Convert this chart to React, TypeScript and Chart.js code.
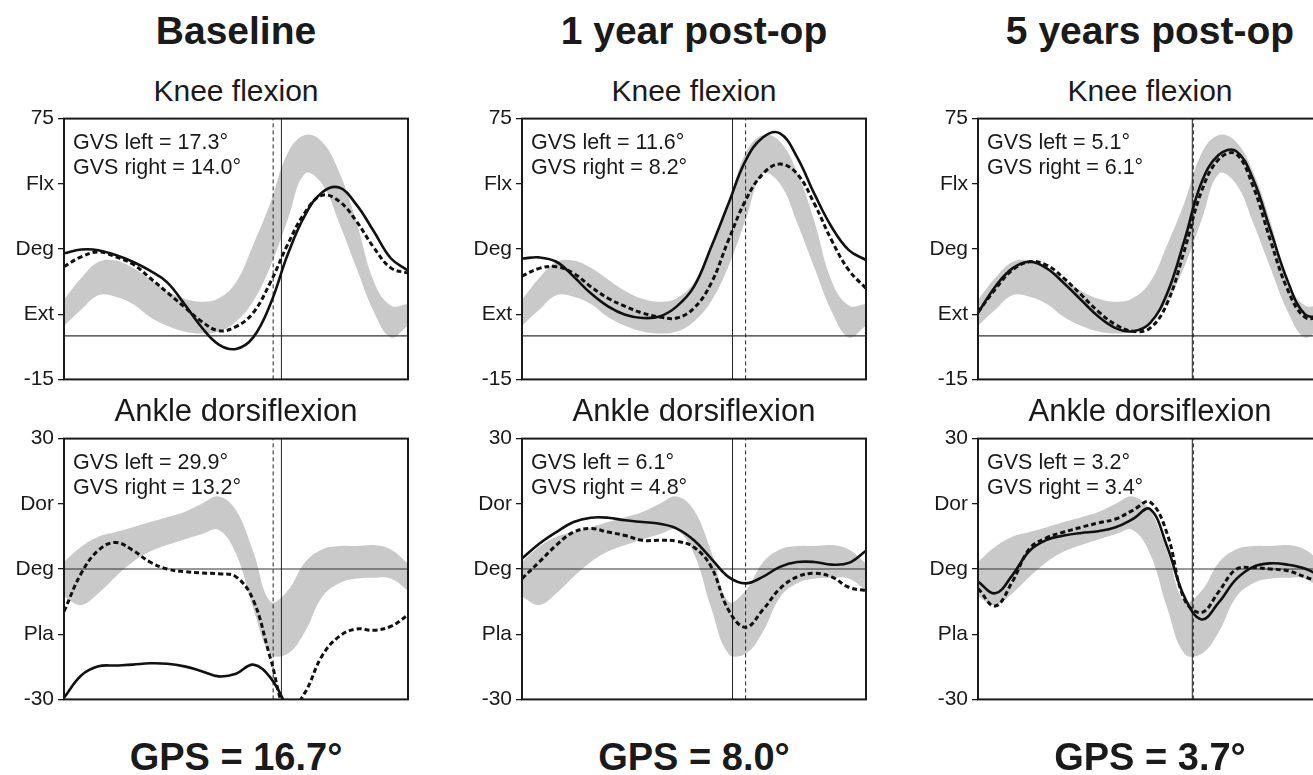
import React, { useEffect, useRef } from 'react';
import { Chart, registerables } from 'chart.js';

Chart.register(...registerables);

// ---------- DATA ----------
// % of gait cycle
const PCT = [0, 5, 10, 15, 20, 25, 30, 35, 40, 45, 50, 55, 60, 65, 70, 75, 80, 85, 90, 95, 100];

// Normative band (mean ± SD) – knee flexion
const KNEE_NORM_UPPER = [12.5, 20, 25.5, 26, 23.5, 19.5, 15.5, 12.8, 11.8, 13, 18.5, 31.5, 46, 63, 69.3, 67, 56.5, 39.5, 19, 10.5, 11];
const KNEE_NORM_LOWER = [3.5, 9, 14, 13.5, 11, 6.5, 3.5, 1.5, 0.8, 1.5, 5, 12, 24, 40, 56, 52.5, 39, 23.5, 8.5, -0.5, 3.5];

// Normative band – ankle dorsiflexion
const ANKLE_NORM_UPPER = [1.6, 5.1, 7.4, 8.5, 9.6, 10.8, 11.9, 13.1, 15.0, 16.7, 13.5, 4, -7.5, -5, 1.5, 4.5, 5.3, 5.3, 5.5, 4.5, 1.3];
const ANKLE_NORM_LOWER = [-6.4, -8.3, -5.6, -1.8, 1.6, 4.0, 5.5, 6.8, 8.0, 9.0, 3.5, -9, -19.5, -19.5, -14.5, -6.5, -3.3, -2.2, -2, -2.2, -5];

// Knee flexion – left (solid) / right (dashed)
const KNEE_LEFT_BASELINE = [28.5, 29.8, 29.6, 27.9, 25.6, 22.5, 18.5, 11, 3, -3, -4.5, -0.5, 11, 28, 41.5, 49.5, 51.2, 45.3, 36.2, 26.8, 22.5];
const KNEE_RIGHT_BASELINE = [23.9, 27.3, 29.0, 27.3, 24.8, 20, 15, 10, 5, 1.8, 3.2, 8, 18.5, 31.5, 42.5, 48.5, 46.5, 39.6, 30.6, 23.5, 21.7];
const KNEE_LEFT_1Y = [26.7, 27.1, 25.6, 20.5, 14.7, 10.2, 7.3, 6.2, 6.7, 10.2, 17.0, 30.7, 45.6, 60.5, 68.5, 69.9, 61.6, 49.0, 37.6, 29.6, 26.2];
const KNEE_RIGHT_1Y = [20.7, 23.3, 23.9, 21.6, 17.0, 13.0, 10.2, 7.9, 6.5, 6.2, 9.6, 18.2, 33.0, 46.8, 55.9, 59.3, 55.9, 45.6, 33.0, 22.7, 16.4];
const KNEE_LEFT_5Y = [7.9, 17.0, 23.3, 25.6, 23.3, 18.2, 12.4, 6.7, 2.7, 1.6, 4.4, 14.7, 33, 53, 62.5, 63.8, 54, 36.5, 19, 7.5, 6.5];
const KNEE_RIGHT_5Y = [8.2, 16.1, 22.7, 25.6, 24.4, 19.9, 14.2, 8.4, 3.9, 1.6, 2.7, 11.3, 29.5, 50, 61, 62.8, 51.5, 33, 16, 6.5, 6.5];

// Ankle dorsiflexion – left (solid) / right (dashed)
const ANKLE_LEFT_BASELINE = [-29.6, -24.5, -22.4, -22.2, -22.0, -21.7, -21.8, -22.4, -23.5, -24.7, -24.1, -22.0, -25, -32, null, null, null, null, null, null, null];
const ANKLE_RIGHT_BASELINE = [-9.8, -1.0, 4.3, 6.1, 4.3, 1.6, 0, -0.6, -0.9, -1.1, -1.8, -7.1, -20.5, -33, -28.5, -20, -15.5, -13.8, -14.1, -13.2, -10.6];
const ANKLE_LEFT_1Y = [2.4, 5.8, 8.5, 10.8, 11.8, 11.8, 11.2, 10.8, 10.4, 9.3, 6.6, 2.4, -1.8, -3.3, -1.8, 0.5, 1.6, 1.6, 1.0, 1.4, 4.2];
const ANKLE_RIGHT_1Y = [-2.2, 1.6, 5.5, 8.5, 9.3, 8.5, 7.7, 6.6, 6.6, 6.4, 5.0, 0.5, -9.4, -13.4, -9.4, -4.5, -1.8, -1.0, -1.8, -4.2, -5.0];
const ANKLE_LEFT_5Y = [-2.9, -5.6, -1.4, 4.2, 6.7, 7.7, 8.3, 8.7, 9.6, 11.5, 13.8, 5.1, -6.4, -11.6, -7.7, -2.4, 0.5, 1.3, 1.0, 0.1, -1.8];
const ANKLE_RIGHT_5Y = [-4.5, -8.5, -2.9, 4.7, 7.2, 8.5, 9.6, 10.6, 11.5, 13.5, 15.4, 8.1, -7, -10, -5.2, -0.1, 0.3, 0, -0.4, -1.8, -3.3];

// Foot-off events (% gait cycle) per column
const FOOT_OFF_LEFT = [63.2, 61.2, 62.3];
const FOOT_OFF_RIGHT = [60.8, 65.0, 62.6];
const REFERENCE_LEVEL = 0;

// Texts
const COLUMN_TITLES = ['Baseline', '1 year post-op', '5 years post-op'];
const GPS_VALUES = ['16.7', '8.0', '3.7'];
const KNEE_GVS_LEFT = ['17.3', '11.6', '5.1'];
const KNEE_GVS_RIGHT = ['14.0', '8.2', '6.1'];
const ANKLE_GVS_LEFT = ['29.9', '6.1', '3.2'];
const ANKLE_GVS_RIGHT = ['13.2', '4.8', '3.4'];

const KNEE_TICKS = [-15, 7.5, 30, 52.5, 75];
const KNEE_TICK_LABELS = ['-15', 'Ext', 'Deg', 'Flx', '75'];
const ANKLE_TICKS = [-30, -15, 0, 15, 30];
const ANKLE_TICK_LABELS = ['-30', 'Pla', 'Deg', 'Dor', '30'];

// ---------- LAYOUT ----------
const FONT = "'Liberation Sans', Arial, Helvetica, sans-serif";
const TEXT_COLOR = '#1a1a1a';
const PLOT_LEFT = [64, 522, 978];
const PLOT_TOP = [118, 438];
const PLOT_W = 344;
const PLOT_H = 262;
const AXIS_W = 64;
const PAD = 16;
const CURVE_TENSION = 0.4;

type Joint = {
  title: string;
  ticks: number[];
  tickLabels: string[];
  normUpper: number[];
  normLower: number[];
  left: (number | null)[][];
  right: (number | null)[][];
  gvsLeft: string[];
  gvsRight: string[];
};

const KNEE: Joint = {
  title: 'Knee flexion',
  ticks: KNEE_TICKS,
  tickLabels: KNEE_TICK_LABELS,
  normUpper: KNEE_NORM_UPPER,
  normLower: KNEE_NORM_LOWER,
  left: [KNEE_LEFT_BASELINE, KNEE_LEFT_1Y, KNEE_LEFT_5Y],
  right: [KNEE_RIGHT_BASELINE, KNEE_RIGHT_1Y, KNEE_RIGHT_5Y],
  gvsLeft: KNEE_GVS_LEFT,
  gvsRight: KNEE_GVS_RIGHT,
};

const ANKLE: Joint = {
  title: 'Ankle dorsiflexion',
  ticks: ANKLE_TICKS,
  tickLabels: ANKLE_TICK_LABELS,
  normUpper: ANKLE_NORM_UPPER,
  normLower: ANKLE_NORM_LOWER,
  left: [ANKLE_LEFT_BASELINE, ANKLE_LEFT_1Y, ANKLE_LEFT_5Y],
  right: [ANKLE_RIGHT_BASELINE, ANKLE_RIGHT_1Y, ANKLE_RIGHT_5Y],
  gvsLeft: ANKLE_GVS_LEFT,
  gvsRight: ANKLE_GVS_RIGHT,
};

const JOINTS = [KNEE, ANKLE];

function toPoints(vals: (number | null)[]) {
  return PCT.map((x, i) => ({ x, y: vals[i] === undefined ? null : vals[i] }));
}

function Panel({ joint, row, col }: { joint: Joint; row: number; col: number }) {
  const ref = useRef<HTMLCanvasElement>(null);

  useEffect(() => {
    const canvas = ref.current;
    if (!canvas) return;
    const yMin = joint.ticks[0];
    const yMax = joint.ticks[joint.ticks.length - 1];

    const gvsPlugin = {
      id: 'gvsText',
      afterDraw(chart: any) {
        const { ctx, chartArea } = chart;
        ctx.save();
        ctx.font = `21.5px ${FONT}`;
        ctx.fillStyle = TEXT_COLOR;
        ctx.textAlign = 'left';
        ctx.textBaseline = 'alphabetic';
        ctx.fillText(`GVS left = ${joint.gvsLeft[col]}°`, chartArea.left + 9, chartArea.top + 30.5);
        ctx.fillText(`GVS right = ${joint.gvsRight[col]}°`, chartArea.left + 9, chartArea.top + 55);
        ctx.restore();
      },
    };

    const framePlugin = {
      id: 'frame',
      afterDatasetsDraw(chart: any) {
        const { ctx, chartArea: a } = chart;
        ctx.save();
        ctx.strokeStyle = TEXT_COLOR;
        ctx.lineWidth = 2;
        ctx.strokeRect(a.left, a.top, a.right - a.left, a.bottom - a.top);
        ctx.restore();
      },
    };

    const transparent = 'rgba(0,0,0,0)';

    const chart = new Chart(canvas, {
      type: 'line',
      data: {
        datasets: [
          {
            label: 'left',
            data: toPoints(joint.left[col]),
            borderColor: '#111',
            borderWidth: 2.6,
            tension: CURVE_TENSION,
            pointRadius: 0,
            fill: false,
            order: 0,
          },
          {
            label: 'right',
            data: toPoints(joint.right[col]),
            borderColor: '#111',
            borderWidth: 3,
            borderDash: [5, 3],
            tension: CURVE_TENSION,
            pointRadius: 0,
            fill: false,
            order: 1,
          },
          {
            label: 'foot-off left',
            data: [
              { x: FOOT_OFF_LEFT[col], y: yMin },
              { x: FOOT_OFF_LEFT[col], y: yMax },
            ],
            borderColor: '#222',
            borderWidth: 1,
            pointRadius: 0,
            fill: false,
            order: 2,
          },
          {
            label: 'foot-off right',
            data: [
              { x: FOOT_OFF_RIGHT[col], y: yMin },
              { x: FOOT_OFF_RIGHT[col], y: yMax },
            ],
            borderColor: '#222',
            borderWidth: 1,
            borderDash: [4, 3],
            pointRadius: 0,
            fill: false,
            order: 3,
          },
          {
            label: 'zero',
            data: [
              { x: PCT[0], y: REFERENCE_LEVEL },
              { x: PCT[PCT.length - 1], y: REFERENCE_LEVEL },
            ],
            borderColor: '#333',
            borderWidth: 1.2,
            pointRadius: 0,
            fill: false,
            order: 4,
          },
          {
            label: 'norm upper',
            data: toPoints(joint.normUpper),
            borderColor: transparent,
            borderWidth: 0,
            backgroundColor: '#c9c9c9',
            tension: CURVE_TENSION,
            pointRadius: 0,
            fill: '+1',
            order: 5,
          },
          {
            label: 'norm lower',
            data: toPoints(joint.normLower),
            borderColor: transparent,
            borderWidth: 0,
            tension: CURVE_TENSION,
            pointRadius: 0,
            fill: false,
            order: 6,
          },
        ],
      },
      options: {
        animation: false,
        responsive: false,
        devicePixelRatio: 1,
        layout: { padding: { top: PAD, bottom: PAD, right: PAD, left: 0 } },
        plugins: {
          legend: { display: false },
          tooltip: { enabled: false },
          title: { display: false },
        },
        elements: { point: { radius: 0 } },
        scales: {
          x: { type: 'linear', min: 0, max: 100, display: false },
          y: {
            type: 'linear',
            min: yMin,
            max: yMax,
            afterBuildTicks: (scale: any) => {
              scale.ticks = joint.ticks.map((v) => ({ value: v }));
            },
            afterFit: (scale: any) => {
              scale.width = AXIS_W;
            },
            ticks: {
              autoSkip: false,
              callback: (_v: any, i: number) => joint.tickLabels[i],
              font: { family: FONT, size: 21 },
              color: TEXT_COLOR,
              padding: 4,
            },
            grid: {
              drawOnChartArea: false,
              drawTicks: true,
              tickLength: 6,
              color: TEXT_COLOR,
              lineWidth: 1.3,
            },
            border: { display: false },
          },
        },
      } as any,
      plugins: [gvsPlugin, framePlugin],
    });

    return () => chart.destroy();
  }, [joint, row, col]);

  const w = AXIS_W + PLOT_W + PAD;
  const h = PLOT_H + 2 * PAD;
  return (
    <canvas
      ref={ref}
      width={w}
      height={h}
      style={{
        position: 'absolute',
        left: PLOT_LEFT[col] - AXIS_W,
        top: PLOT_TOP[row] - PAD,
        width: w,
        height: h,
      }}
    />
  );
}

function CenteredText({
  text,
  cx,
  baseline,
  size,
  bold,
}: {
  text: string;
  cx: number;
  baseline: number;
  size: number;
  bold?: boolean;
}) {
  return (
    <div
      style={{
        position: 'absolute',
        left: cx - 250,
        width: 500,
        top: baseline - 0.8465 * size,
        fontSize: size,
        lineHeight: `${size}px`,
        fontWeight: bold ? 'bold' : 'normal',
        textAlign: 'center',
        whiteSpace: 'nowrap',
        color: TEXT_COLOR,
        fontFamily: FONT,
      }}
    >
      {text}
    </div>
  );
}

export default function App() {
  const subtitleBaselines = [101, 421.5];
  return (
    <div
      style={{
        position: 'fixed',
        left: 0,
        top: 0,
        width: 1313,
        height: 775,
        overflow: 'hidden',
        background: '#ffffff',
      }}
    >
      {COLUMN_TITLES.map((t, col) => {
        const cx = PLOT_LEFT[col] + PLOT_W / 2;
        return (
          <React.Fragment key={t}>
            <CenteredText text={t} cx={cx} baseline={44} size={39} bold />
            {JOINTS.map((j, row) => (
              <React.Fragment key={j.title}>
                <CenteredText text={j.title} cx={cx} baseline={subtitleBaselines[row]} size={j.title.length > 14 ? 31 : 30} />
                <Panel joint={j} row={row} col={col} />
              </React.Fragment>
            ))}
            <CenteredText text={`GPS = ${GPS_VALUES[col]}°`} cx={cx} baseline={770} size={38} bold />
          </React.Fragment>
        );
      })}
    </div>
  );
}
